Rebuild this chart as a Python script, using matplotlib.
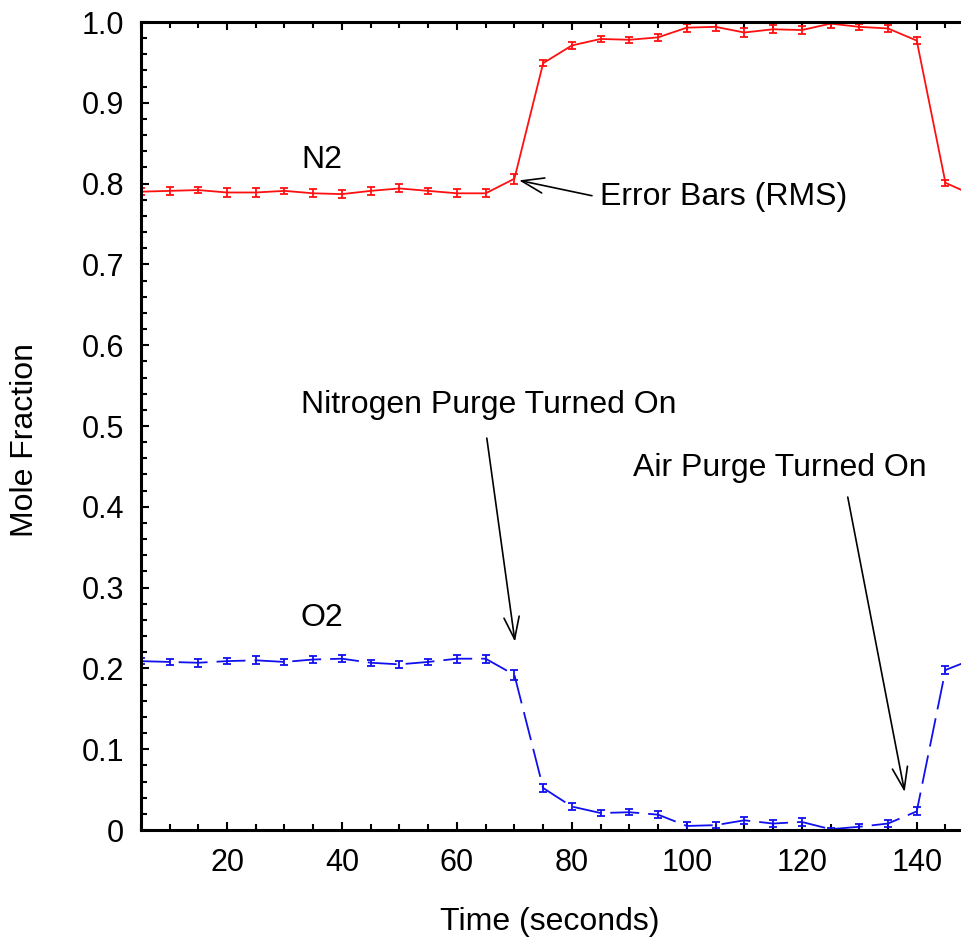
import numpy as np
import matplotlib.pyplot as plt
from matplotlib.ticker import MultipleLocator
from matplotlib import font_manager

plt.rcParams["font.family"] = ["Liberation Sans", "DejaVu Sans"]

names = {f.name for f in font_manager.fontManager.ttflist}
narrow = "Liberation Sans Narrow" if "Liberation Sans Narrow" in names else "Liberation Sans"

# time (s)
t = [5, 10, 15, 20, 25, 30, 35, 40, 45, 50, 55, 60, 65, 70, 75,
     80, 85, 90, 95, 100, 105, 110, 115, 120, 125, 130, 135, 140, 145, 150]

n2 = [0.790, 0.791, 0.792, 0.789, 0.789, 0.791, 0.788, 0.787, 0.791, 0.794,
      0.791, 0.788, 0.788, 0.806, 0.949, 0.971, 0.979, 0.978, 0.981, 0.993,
      0.994, 0.987, 0.991, 0.990, 0.998, 0.994, 0.992, 0.977, 0.801, 0.785]
n2_err = [0.004, 0.005, 0.004, 0.005, 0.005, 0.004, 0.005, 0.005, 0.005, 0.005,
          0.004, 0.005, 0.005, 0.006, 0.004, 0.004, 0.004, 0.004, 0.004, 0.005,
          0.005, 0.005, 0.005, 0.005, 0.005, 0.004, 0.004, 0.004, 0.004, 0.004]

o2 = [0.209, 0.208, 0.207, 0.209, 0.210, 0.208, 0.211, 0.212, 0.207, 0.205,
      0.208, 0.212, 0.212, 0.192, 0.052, 0.029, 0.021, 0.022, 0.019, 0.005,
      0.006, 0.012, 0.008, 0.010, 0.001, 0.004, 0.008, 0.023, 0.198, 0.212]
o2_err = [0.004, 0.004, 0.005, 0.004, 0.005, 0.004, 0.004, 0.004, 0.004, 0.004,
          0.004, 0.005, 0.005, 0.006, 0.005, 0.004, 0.004, 0.004, 0.004, 0.005,
          0.004, 0.004, 0.004, 0.005, 0.002, 0.004, 0.004, 0.005, 0.005, 0.005]

yticks = [0, 0.1, 0.2, 0.3, 0.4, 0.5, 0.6, 0.7, 0.8, 0.9, 1.0]
ytick_labels = ["0", "0.1", "0.2", "0.3", "0.4", "0.5", "0.6", "0.7", "0.8", "0.9", "1.0"]
xticks = [20, 40, 60, 80, 100, 120, 140]

W, H = 962, 943
fig = plt.figure(figsize=(W / 100, H / 100), dpi=100)
# axes runs past the right edge of the figure (cropped like the original)
ax = fig.add_axes([140.8 / W, (H - 830) / H, 833.4 / W, 808 / H])

ax.errorbar(t, n2, yerr=n2_err, color="#ff1010", lw=1.3, capsize=3, elinewidth=1.3, capthick=1.3)
ax.errorbar(t, o2, yerr=o2_err, color="#1010ee", lw=1.3, capsize=3, elinewidth=1.3, capthick=1.3,
            dashes=(16, 5))

ax.set_xlim(5, 150)
ax.set_ylim(0, 1.0)
ax.set_xticks(xticks)
ax.xaxis.set_minor_locator(MultipleLocator(5))
ax.set_yticks(yticks)
ax.set_yticklabels(ytick_labels)
ax.yaxis.set_minor_locator(MultipleLocator(0.02))

ax.tick_params(which="both", direction="in", top=True, right=False, width=1.5)
ax.tick_params(which="major", length=6)
ax.tick_params(which="minor", length=4)
ax.tick_params(axis="x", labelsize=22, pad=13)
ax.tick_params(axis="y", labelsize=22, pad=12)
for s in ax.spines.values():
    s.set_linewidth(2.2)

fig.text(550 / W, 1 - 922 / H, "Time (seconds)", fontsize=23, ha="center", va="center")
fig.text(25 / W, 1 - 440 / H, "Mole Fraction", fontsize=23, family=narrow,
         rotation=90, ha="center", va="center")

ax.text(36.5, 0.829, "N2", fontsize=23, ha="center", va="center")
ax.text(36.5, 0.262, "O2", fontsize=23, ha="center", va="center")
ax.text(84.9, 0.783, "Error Bars (RMS)", fontsize=23, ha="left", va="center")
ax.text(32.9, 0.526, "Nitrogen Purge Turned On", fontsize=23, ha="left", va="center")
ax.text(90.6, 0.448, "Air Purge Turned On", fontsize=23, ha="left", va="center")

arrow = dict(arrowstyle="->,head_length=1.6,head_width=0.55", color="black", lw=1.2,
             shrinkA=0, shrinkB=0)
ax.annotate("", xy=(70.8, 0.804), xytext=(83.5, 0.785), arrowprops=arrow)
ax.annotate("", xy=(70.1, 0.233), xytext=(65.2, 0.485), arrowprops=arrow)
ax.annotate("", xy=(137.9, 0.047), xytext=(128.0, 0.412), arrowprops=arrow)

plt.savefig("out.png", dpi=100)
